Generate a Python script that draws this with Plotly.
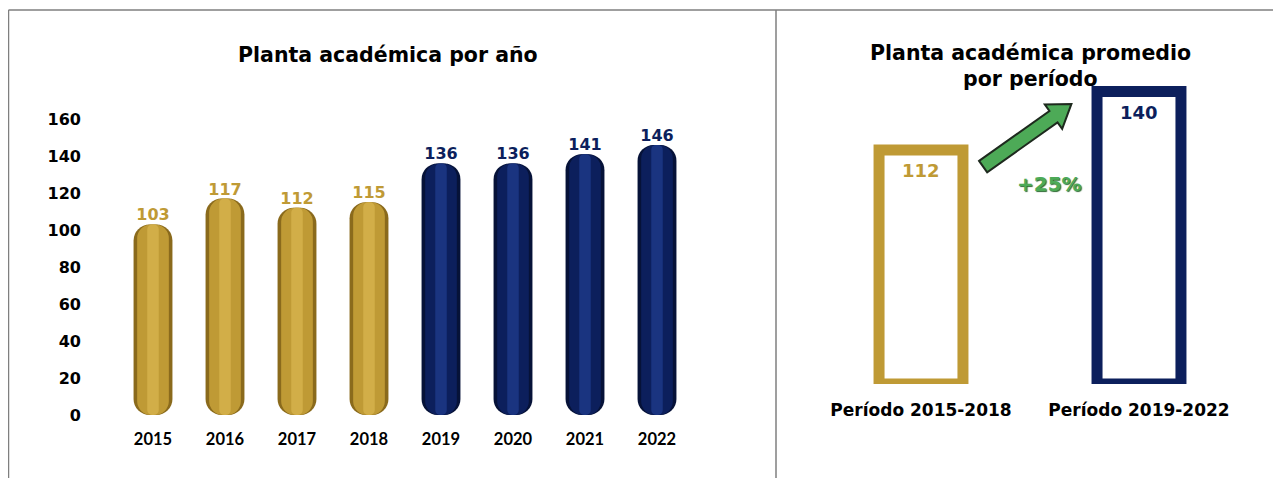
import math
import plotly.graph_objects as go

# ---------------- data ----------------
years = ["2015", "2016", "2017", "2018", "2019", "2020", "2021", "2022"]
staff = [103, 117, 112, 115, 136, 136, 141, 146]
period_of_year = ["A", "A", "A", "A", "B", "B", "B", "B"]

periods = ["Período 2015-2018", "Período 2019-2022"]
period_avg = [112, 140]
period_keys = ["A", "B"]

y_ticks = [0, 20, 40, 60, 80, 100, 120, 140, 160]

title_left = "Planta académica por año"
title_right_1 = "Planta académica promedio"
title_right_2 = "por período"

# ---------------- style ----------------
W, H = 1281, 478
OFF = 8  # page offset of the plot in the browser


def PX(x):  # screen x -> paper
    return (x - OFF) / W


def PY(y):  # screen y -> paper
    return 1 - (y - OFF) / H


GOLD = "#BF9A35"
GOLD_DARK = "#8A6A1C"
GOLD_LIGHT = "#D2AE48"
NAVY = "#0C1F5C"
NAVY_DARK = "#061238"
NAVY_LIGHT = "#1A3480"
GREEN = "#4DAA57"
FONT = "DejaVu Sans"

main_col = {"A": GOLD, "B": NAVY}
dark_col = {"A": GOLD_DARK, "B": NAVY_DARK}
light_col = {"A": GOLD_LIGHT, "B": NAVY_LIGHT}

# left axes geometry (screen px)
X1_L, X1_R = 117, 693
Y1_ZERO, Y1_TOP = 415, 119

fig = go.Figure()

# ---- left chart: rounded cylinder-like bars with layered shading ----
layers = [
    (0.54, 16, [dark_col[p] for p in period_of_year]),
    (0.44, 14, [main_col[p] for p in period_of_year]),
    (0.16, 5, [light_col[p] for p in period_of_year]),
]
for w, rad, cols in layers:
    fig.add_trace(go.Bar(
        x=years, y=staff, base=[0] * len(years), width=w,
        marker=dict(color=cols, line=dict(width=0), cornerradius=rad),
        xaxis="x", yaxis="y", showlegend=False, hoverinfo="skip",
    ))

# value labels
fig.add_trace(go.Scatter(
    x=years, y=staff, mode="text",
    text=[str(v) for v in staff],
    textposition="top center",
    textfont=dict(family=FONT, size=16, color=[main_col[p] for p in period_of_year], weight="bold"),
    xaxis="x", yaxis="y", showlegend=False, cliponaxis=False, hoverinfo="skip",
))

# ---- right chart: outlined bars ----
fig.add_trace(go.Bar(
    x=[0, 1], y=period_avg, width=0.385,
    marker=dict(color="white", line=dict(width=11, color=[main_col[k] for k in period_keys])),
    xaxis="x2", yaxis="y2", showlegend=False,
))

for i, (v, k) in enumerate(zip(period_avg, period_keys)):
    fig.add_annotation(
        x=i, y=v, xref="x2", yref="y2", text=f"<b>{v}</b>", showarrow=False,
        yshift=-21, font=dict(family=FONT, size=18, color=main_col[k]),
    )

# right axes geometry (screen px)
X2_L, X2_R = 812, 1248
Y2_ZERO, Y2_TOP = 384, 49.6
px_per_x = (X2_R - X2_L) / 2.0
px_per_y = (Y2_ZERO - Y2_TOP) / 160.0

# growth arrow (block arrow) between the two periods
x0d, y0d = 0.285, 104
x1d, y1d = 0.69, 134
X0, Y0 = x0d * px_per_x, y0d * px_per_y
X1, Y1 = x1d * px_per_x, y1d * px_per_y
L = math.hypot(X1 - X0, Y1 - Y0)
ux, uy = (X1 - X0) / L, (Y1 - Y0) / L
nx, ny = -uy, ux
shaft, head, head_len = 7, 15, 22
bx, by = X1 - ux * head_len, Y1 - uy * head_len
pts = [
    (X0 + nx * shaft, Y0 + ny * shaft),
    (bx + nx * shaft, by + ny * shaft),
    (bx + nx * head, by + ny * head),
    (X1, Y1),
    (bx - nx * head, by - ny * head),
    (bx - nx * shaft, by - ny * shaft),
    (X0 - nx * shaft, Y0 - ny * shaft),
]
path = "M " + " L ".join(f"{px / px_per_x:.4f},{py / px_per_y:.3f}" for px, py in pts) + " Z"
fig.add_shape(type="path", path=path, xref="x2", yref="y2",
              fillcolor=GREEN, line=dict(color="#1E2A1E", width=2))

growth = round((period_avg[1] / period_avg[0] - 1) * 100)
fig.add_annotation(
    x=(1049 - 921) / px_per_x, y=(Y2_ZERO - 184) / px_per_y, xref="x2", yref="y2",
    text=f"<b>+{growth}%</b>", showarrow=False,
    font=dict(family=FONT, size=20, color=GREEN, shadow="1px 1px 1px #2E6B33"),
)

# titles
fig.add_annotation(x=PX(388), y=PY(55), xref="paper", yref="paper", xanchor="center", yanchor="middle",
                   text=f"<b>{title_left}</b>", showarrow=False,
                   font=dict(family=FONT, size=20.5, color="black"))
fig.add_annotation(x=PX(1030), y=PY(53), xref="paper", yref="paper", xanchor="center", yanchor="middle",
                   text=f"<b>{title_right_1}</b>", showarrow=False,
                   font=dict(family=FONT, size=20.5, color="black"))
fig.add_annotation(x=PX(1030), y=PY(79), xref="paper", yref="paper", xanchor="center", yanchor="middle",
                   text=f"<b>{title_right_2}</b>", showarrow=False,
                   font=dict(family=FONT, size=20.5, color="black"))

# frame lines
LINE = dict(color="#7F7F7F", width=1.5)
fig.add_shape(type="line", xref="paper", yref="paper", x0=PX(8.5), x1=1, y0=PY(10), y1=PY(10), line=LINE)
fig.add_shape(type="line", xref="paper", yref="paper", x0=PX(8.5), x1=PX(8.5), y0=0, y1=PY(10), line=LINE)
fig.add_shape(type="line", xref="paper", yref="paper", x0=PX(776), x1=PX(776), y0=0, y1=PY(10), line=LINE)

fig.update_layout(
    width=W, height=H, margin=dict(l=0, r=0, t=0, b=0, autoexpand=False),
    paper_bgcolor="white", plot_bgcolor="white", barmode="overlay",
    font=dict(family=FONT, color="black"),
    xaxis=dict(domain=[PX(X1_L), PX(X1_R)], range=[-0.5, 7.5], showgrid=False, zeroline=False,
               showline=False, ticks="", ticklabelstandoff=12, automargin=False,
               categoryorder="array", categoryarray=years,
               tickfont=dict(family="Lato", size=16.5, weight="bold", color="black")),
    yaxis=dict(domain=[PY(Y1_ZERO), PY(Y1_TOP)], range=[0, 160], tickvals=y_ticks,
               showgrid=False, zeroline=False, showline=False, ticks="", ticklabelstandoff=35,
               automargin=False,
               tickfont=dict(family=FONT, size=16, weight="bold", color="black")),
    xaxis2=dict(domain=[PX(X2_L), PX(X2_R)], range=[-0.5, 1.5], tickvals=[0, 1], ticktext=periods,
                showgrid=False, zeroline=False, showline=False, ticks="", ticklabelstandoff=14,
                automargin=False,
                anchor="y2", tickfont=dict(family=FONT, size=17, weight="bold", color="black")),
    yaxis2=dict(domain=[PY(Y2_ZERO), PY(Y2_TOP)], range=[0, 160], visible=False, anchor="x2",
                automargin=False),
)

fig.write_html("out.html")
